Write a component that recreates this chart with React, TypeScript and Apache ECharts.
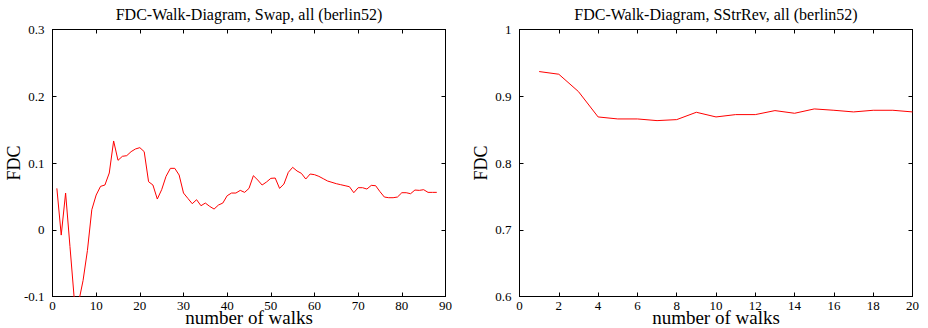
import React, { useEffect, useRef } from "react";
import * as echarts from "echarts";

const swapWalks: number[] = Array.from({ length: 88 }, (_, i) => i + 1);
const swapFdc: number[] = [
  0.062, -0.008, 0.055, -0.025, -0.105, -0.108, -0.076, -0.031, 0.03, 0.052,
  0.065, 0.067, 0.085, 0.133, 0.104, 0.11, 0.111, 0.117, 0.121, 0.123,
  0.117, 0.072, 0.067, 0.046, 0.06, 0.08, 0.092, 0.092, 0.082, 0.055,
  0.047, 0.039, 0.045, 0.036, 0.04, 0.035, 0.031, 0.037, 0.04, 0.051,
  0.055, 0.055, 0.059, 0.056, 0.062, 0.081, 0.0745, 0.067, 0.0715, 0.077,
  0.0775, 0.062, 0.0685, 0.086, 0.0935, 0.088, 0.0845, 0.076, 0.0835, 0.0825,
  0.08, 0.0765, 0.073, 0.071, 0.069, 0.0675, 0.066, 0.0645, 0.0555, 0.063,
  0.063, 0.061, 0.0665, 0.066, 0.057, 0.049, 0.048, 0.048, 0.049, 0.0555,
  0.0555, 0.054, 0.0595, 0.059, 0.06, 0.056, 0.056, 0.056,
];

const sstrWalks: number[] = Array.from({ length: 20 }, (_, i) => i + 1);
const sstrFdc: number[] = [
  0.937, 0.933, 0.907, 0.869, 0.866, 0.866, 0.8635, 0.865, 0.876, 0.869,
  0.8725, 0.8725, 0.8785, 0.8745, 0.881, 0.879, 0.8765, 0.879, 0.879, 0.8765,
];

const titles = [
  "FDC-Walk-Diagram, Swap, all (berlin52)",
  "FDC-Walk-Diagram, SStrRev, all (berlin52)",
];
const xName = "number of walks";
const yName = "FDC";

const FONT = '"Liberation Serif", "DejaVu Serif", serif';

export default function App() {
  const ref = useRef<HTMLDivElement>(null);
  useEffect(() => {
    if (!ref.current) return;
    const chart = echarts.init(ref.current, undefined, { renderer: "svg" });
    const grids = [
      { left: 52.5, top: 29.5, width: 393, height: 267, containLabel: false, outerBoundsMode: "none" },
      { left: 519.5, top: 29.5, width: 393, height: 267, containLabel: false, outerBoundsMode: "none" },
    ];
    const axisLine = { show: true, onZero: false, lineStyle: { color: "#000", width: 1 } };
    const tick = { show: true, inside: true, length: 4, lineStyle: { color: "#000" } };
    const label = { fontFamily: FONT, fontSize: 13, color: "#000" };
    const xRanges = [
      { min: 0, max: 90, interval: 10 },
      { min: 0, max: 20, interval: 2 },
    ];
    const yRanges = [
      { min: -0.1, max: 0.3, interval: 0.1 },
      { min: 0.6, max: 1, interval: 0.1 },
    ];
    const xAxis: any[] = [];
    const yAxis: any[] = [];
    [0, 1].forEach((g) => {
      xAxis.push({
        type: "value",
        gridIndex: g,
        position: "bottom",
        ...xRanges[g],
        axisLine,
        axisTick: tick,
        splitLine: { show: false },
        axisLabel: { ...label, margin: 2 },
        name: xName,
        nameLocation: "middle",
        nameGap: 11,
        nameMoveOverlap: false,
        nameTextStyle: { fontFamily: FONT, fontSize: 19, color: "#000" },
      });
      xAxis.push({
        type: "value",
        gridIndex: g,
        position: "top",
        ...xRanges[g],
        axisLine,
        axisTick: tick,
        splitLine: { show: false },
        axisLabel: { show: false },
      });
      yAxis.push({
        type: "value",
        gridIndex: g,
        position: "left",
        ...yRanges[g],
        axisLine,
        axisTick: tick,
        splitLine: { show: false },
        axisLabel: { ...label, margin: 8 },
        name: yName,
        nameLocation: "middle",
        nameGap: 30,
        nameMoveOverlap: false,
        nameTextStyle: { fontFamily: FONT, fontSize: 18, color: "#000" },
      });
      yAxis.push({
        type: "value",
        gridIndex: g,
        position: "right",
        ...yRanges[g],
        axisLine,
        axisTick: tick,
        splitLine: { show: false },
        axisLabel: { show: false },
      });
    });
    chart.setOption({
      animation: false,
      grid: grids,
      xAxis,
      yAxis,
      graphic: titles.map((t, i) => ({
        type: "text",
        x: grids[i].left + grids[i].width / 2,
        y: 14,
        style: {
          text: t,
          textAlign: "center",
          textVerticalAlign: "middle",
          font: `16px ${FONT}`,
          fill: "#000",
        },
      })),
      series: [
        {
          type: "line",
          xAxisIndex: 0,
          yAxisIndex: 0,
          data: swapWalks.map((w, i) => [w, swapFdc[i]]),
          showSymbol: false,
          symbol: "none",
          clip: true,
          lineStyle: { color: "#ff0000", width: 1 },
        },
        {
          type: "line",
          xAxisIndex: 2,
          yAxisIndex: 2,
          data: sstrWalks.map((w, i) => [w, sstrFdc[i]]),
          showSymbol: false,
          symbol: "none",
          clip: true,
          lineStyle: { color: "#ff0000", width: 1 },
        },
      ],
    });
    return () => chart.dispose();
  }, []);
  return (
    <div
      ref={ref}
      style={{ position: "absolute", left: 0, top: 0, width: 928, height: 328, background: "#fff" }}
    />
  );
}
